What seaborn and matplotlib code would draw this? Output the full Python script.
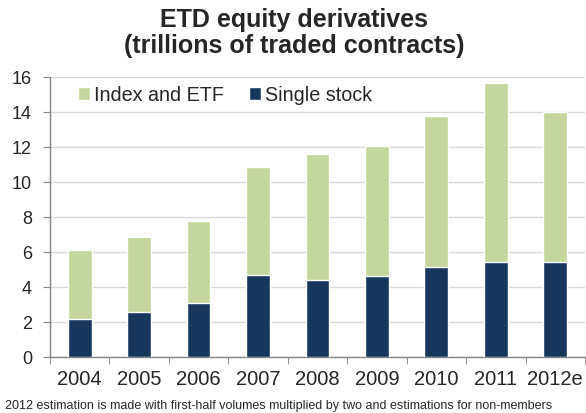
import matplotlib
matplotlib.use('Agg')
import matplotlib.pyplot as plt
import seaborn as sns
import pandas as pd

years = ['2004', '2005', '2006', '2007', '2008', '2009', '2010', '2011', '2012e']
single_stock = [2.17, 2.57, 3.09, 4.65, 4.38, 4.63, 5.14, 5.41, 5.41]
index_etf = [3.93, 4.27, 4.64, 6.21, 7.22, 7.41, 8.61, 10.23, 8.57]

df = pd.DataFrame({'Année': years, 'Single stock': single_stock, 'Index and ETF': index_etf})
df['Total'] = df['Single stock'] + df['Index and ETF']

sns.set_style('white')
plt.rcParams['font.family'] = ['Liberation Sans', 'DejaVu Sans']

fig = plt.figure(figsize=(5.86, 4.14), dpi=100)
ax = fig.add_axes([0.0853, 0.136, 0.9130, 0.676])

# barres empilées : total en vert, single stock par-dessus
sns.barplot(x='Année', y='Total', data=df, color='#C3D69B', width=0.4,
            saturation=1, label='Index and ETF', ax=ax, zorder=3)
sns.barplot(x='Année', y='Single stock', data=df, color='#17375E', width=0.4,
            saturation=1, label='Single stock', ax=ax, zorder=3)

ax.set_ylim(0, 16)
ax.set_xlim(-0.5, len(years) - 0.5)
ax.set_yticks(range(0, 17, 2))
ax.grid(True, axis='y', color='#D9D9D9', linewidth=1, zorder=0)
ax.set_xlabel('')
ax.set_ylabel('')

for s in ['top', 'right']:
    ax.spines[s].set_visible(False)
for s in ['left', 'bottom']:
    ax.spines[s].set_color('#868686')
    ax.spines[s].set_linewidth(1)

ax.set_xticks([i - 0.5 for i in range(len(years) + 1)], minor=True)
ax.tick_params(axis='x', which='major', length=0, labelsize=14.5, pad=9)
ax.tick_params(axis='x', which='minor', length=5, color='#868686', direction='out', bottom=True)
ax.tick_params(axis='y', length=5, color='#868686', direction='out', left=True, labelsize=13, pad=8)

ax.legend(loc='upper left', bbox_to_anchor=(0.052, 0.97), frameon=False, ncol=2,
          fontsize=14.2, handlelength=0.6, handleheight=0.6, handletextpad=0.2,
          columnspacing=1.3, borderaxespad=0, borderpad=0)

fig.suptitle('ETD equity derivatives\n(trillions of traded contracts)', x=0.502, y=0.98,
             fontsize=18, fontweight='bold', linespacing=1.1)
fig.text(0.008, 0.012, '2012 estimation is made with first-half volumes multiplied by two and estimations for non-members',
         fontsize=9)

plt.savefig('out.png', dpi=100)
